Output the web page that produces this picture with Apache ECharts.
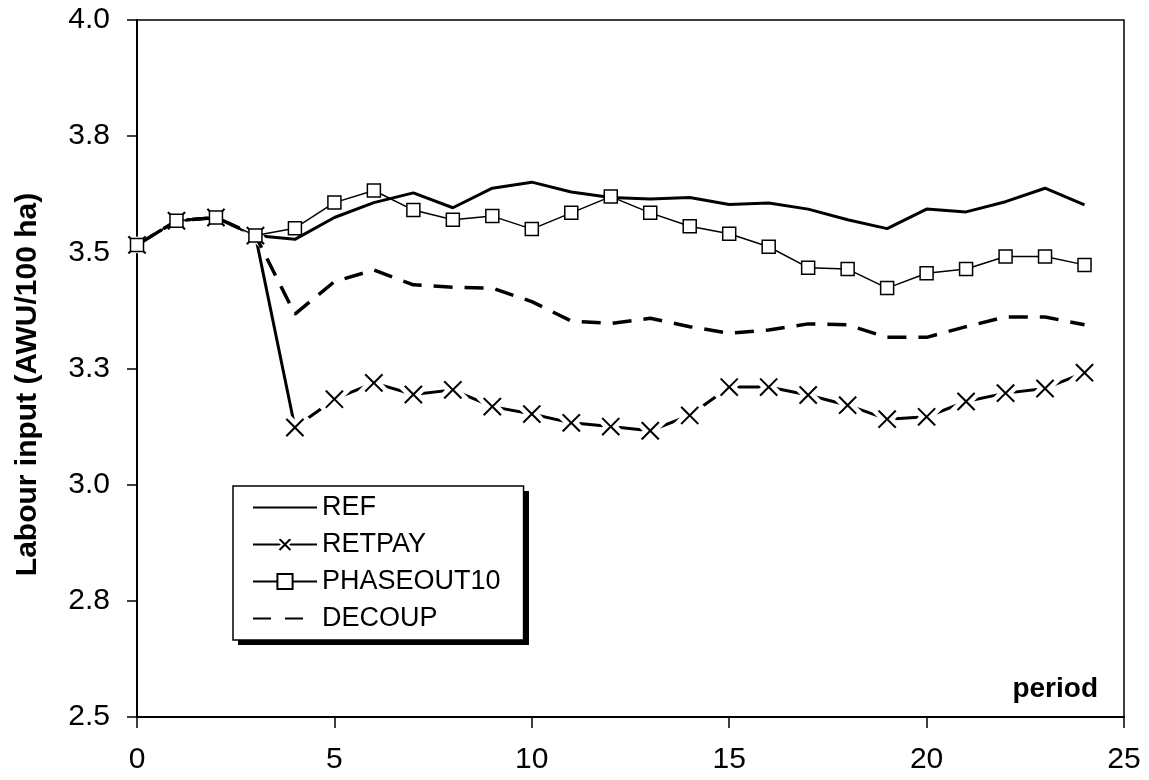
<!DOCTYPE html>
<html>
<head>
<meta charset="utf-8">
<script src="https://cdn.jsdelivr.net/npm/echarts@6/dist/echarts.min.js"></script>
<style>
  html, body { margin: 0; padding: 0; background: #fff; }
  #main { width: 1149px; height: 780px; }
</style>
</head>
<body>
<div id="main"></div>
<script>
// period 0..24
var periods = [0, 1, 2, 3, 4, 5, 6, 7, 8, 9, 10, 11, 12, 13, 14, 15, 16, 17, 18, 19, 20, 21, 22, 23, 24];
var refData = [3.516, 3.568, 3.575, 3.536, 3.528, 3.575, 3.607, 3.628, 3.596, 3.638, 3.651, 3.630, 3.618, 3.615, 3.618, 3.603, 3.606, 3.593, 3.570, 3.551, 3.593, 3.587, 3.609, 3.638, 3.602];
var retpayData = [3.516, 3.568, 3.575, 3.536, 3.123, 3.184, 3.219, 3.194, 3.204, 3.168, 3.152, 3.133, 3.125, 3.116, 3.149, 3.210, 3.210, 3.193, 3.171, 3.141, 3.146, 3.179, 3.197, 3.207, 3.241];
var phaseoutData = [3.516, 3.568, 3.575, 3.536, 3.552, 3.607, 3.633, 3.591, 3.570, 3.578, 3.550, 3.585, 3.620, 3.585, 3.556, 3.540, 3.512, 3.467, 3.464, 3.423, 3.455, 3.464, 3.491, 3.491, 3.473];
var decoupData = [3.516, 3.568, 3.575, 3.536, 3.367, 3.437, 3.462, 3.430, 3.425, 3.423, 3.394, 3.352, 3.347, 3.358, 3.340, 3.326, 3.333, 3.346, 3.344, 3.317, 3.317, 3.340, 3.361, 3.361, 3.344];
// tick labels as printed on the y axis (2.5 .. 4.0 step 0.25)
var yTickLabels = ["2.5", "2.8", "3.0", "3.3", "3.5", "3.8", "4.0"];
var xTickLabels = ["0", "5", "10", "15", "20", "25"];

function pairs(ys) {
  return periods.map(function (p, i) { return [p, ys[i]]; });
}

var FONT = "Liberation Sans, Arial, sans-serif";
// thick X outline, the white border cuts the line around the marker (like excel)
var crossPath = "path://M3.7,0L10,6.3L16.3,0L20,3.7L13.7,10L20,16.3L16.3,20L10,13.7L3.7,20L0,16.3L6.3,10L0,3.7Z";

var chart = echarts.init(document.getElementById("main"));
chart.setOption({
  animation: false,
  backgroundColor: "#fff",
  textStyle: { fontFamily: FONT },
  title: {
    text: "period",
    right: 46,
    top: 670,
    textStyle: { fontSize: 28, fontWeight: "bold", color: "#000", fontFamily: FONT }
  },
  // legend drop shadow
  graphic: [{
    type: "rect",
    z: 3,
    shape: { x: 238, y: 491, width: 291, height: 154 },
    style: { fill: "#000" }
  }],
  grid: {
    left: 137, right: 25, top: 20, bottom: 63,
    show: true, borderColor: "#000", borderWidth: 1.5
  },
  legend: {
    orient: "vertical",
    left: 233,
    top: 486,
    z: 6,
    padding: [8, 23, 8, 19],
    itemGap: 10,
    itemWidth: 64,
    itemHeight: 19,
    backgroundColor: "#fff",
    borderColor: "#000",
    borderWidth: 1.5,
    textStyle: { fontSize: 27, color: "#000", fontFamily: FONT, lineHeight: 27 },
    data: [
      { name: "REF", itemStyle: { opacity: 0 } },
      { name: "RETPAY", itemStyle: { borderWidth: 2 } },
      "PHASEOUT10",
      { name: "DECOUP", itemStyle: { opacity: 0 }, lineStyle: { type: [18, 14] } }
    ]
  },
  xAxis: {
    type: "value",
    min: 0, max: 25, interval: 5,
    axisLine: { lineStyle: { color: "#000", width: 2 } },
    axisTick: { length: 11, lineStyle: { color: "#000", width: 1.5 } },
    axisLabel: {
      margin: 28, fontSize: 30, color: "#000", fontFamily: FONT,
      formatter: function (v) { return xTickLabels[Math.round(v / 5)]; }
    },
    splitLine: { show: false }
  },
  yAxis: {
    type: "value",
    min: 2.5, max: 4.0, interval: 0.25,
    name: "Labour input (AWU/100 ha)",
    nameLocation: "middle",
    nameGap: 94,
    nameTextStyle: {
      fontSize: 30, fontWeight: "bold", color: "#000", fontFamily: FONT,
      padding: [0, 32, 0, 0]
    },
    axisLine: { show: true, lineStyle: { color: "#000", width: 2 } },
    axisTick: { show: true, length: 10, lineStyle: { color: "#000", width: 1.5 } },
    axisLabel: {
      margin: 27, fontSize: 30, color: "#000", fontFamily: FONT,
      formatter: function (v) { return yTickLabels[Math.round((v - 2.5) / 0.25)]; }
    },
    splitLine: { show: false }
  },
  series: [
    {
      name: "REF",
      type: "line",
      data: pairs(refData),
      symbol: "none",
      lineStyle: { color: "#000", width: 3 },
      itemStyle: { color: "#000" },
      z: 2
    },
    {
      name: "RETPAY",
      type: "line",
      data: pairs(retpayData),
      symbol: crossPath,
      symbolSize: 25,
      lineStyle: { color: "#000", width: 3 },
      itemStyle: { color: "#000", borderColor: "#fff", borderWidth: 4.5 },
      z: 3
    },
    {
      name: "PHASEOUT10",
      type: "line",
      data: pairs(phaseoutData),
      symbol: "rect",
      symbolSize: 13,
      lineStyle: { color: "#000", width: 1.5 },
      itemStyle: { color: "#fff", borderColor: "#000", borderWidth: 1.5 },
      z: 5
    },
    {
      name: "DECOUP",
      type: "line",
      data: pairs(decoupData),
      symbol: "none",
      lineStyle: { color: "#000", width: 3.5, type: [19, 12] },
      itemStyle: { color: "#000" },
      z: 4
    }
  ]
});
</script>
</body>
</html>
